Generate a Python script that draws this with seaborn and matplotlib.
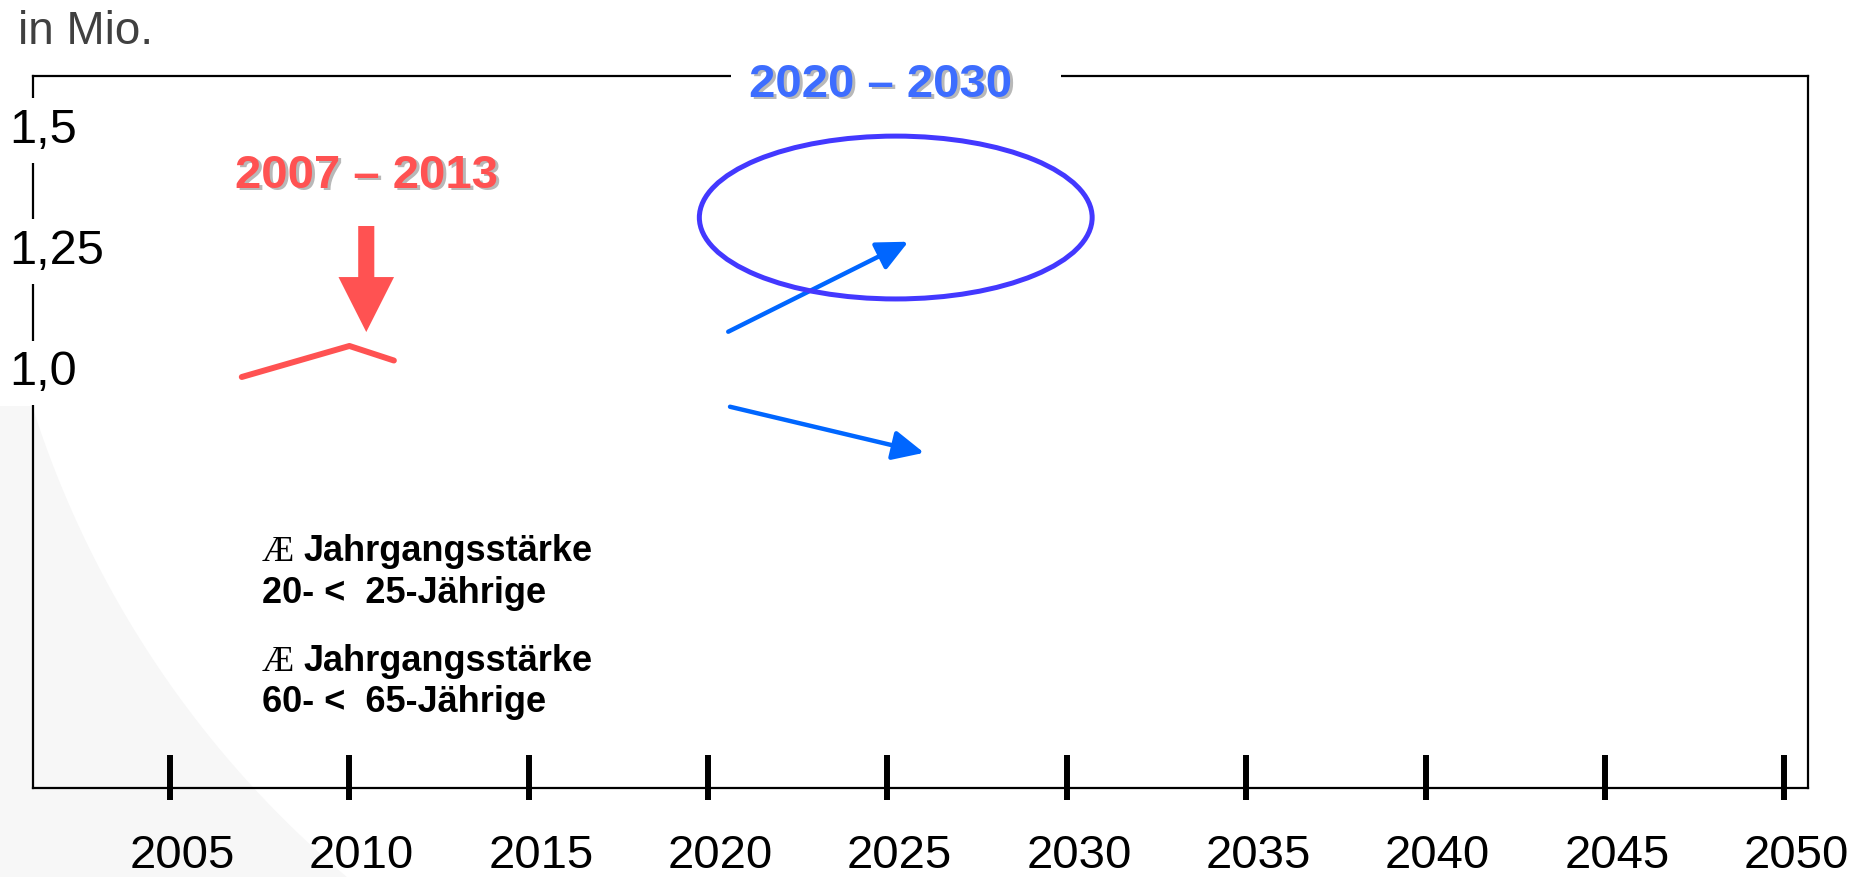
import numpy as np
import matplotlib
matplotlib.use("Agg")
import matplotlib.pyplot as plt
import seaborn as sns
from matplotlib.patches import Ellipse, Polygon
from matplotlib.transforms import ScaledTranslation

# ---------------- data ----------------
tick_years = [2005, 2010, 2015, 2020, 2025, 2030, 2035, 2040, 2045, 2050]
tick_labels = [str(y) for y in tick_years]
y_ticks = [1.0, 1.25, 1.5]
y_tick_labels = ["1,0", "1,25", "1,5"]

red_years = [2007.0, 2010.0, 2011.24]
red_values = [0.981, 1.045, 1.015]

red_period = "2007 – 2013"
red_period_pos = (2010.48, 1.396)
blue_period = "2020 – 2030"

red_arrow_x = [2010.47, 2010.47]
red_arrow_y = [1.2925, 1.0737]
blue_up_x = [2020.56, 2025.58]
blue_up_y = [1.0744, 1.2601]
blue_down_x = [2020.61, 2026.02]
blue_down_y = [0.9196, 0.8246]

ellipse_center = (2025.23, 1.310)
ellipse_size = (10.95, 0.336)

legend_symbol = "Æ"
legend_heads = ["Jahrgangsstärke", "Jahrgangsstärke"]
legend_groups = ["20- <  25-Jährige", "60- <  65-Jährige"]
unit_label = "in Mio."

x_limits = (2001.18, 2050.66)
y_limits = (0.133, 1.602)

# ---------------- style ----------------
RED = "#FF5252"
BLUE_ARROW = "#0066FF"
BLUE_ELLIPSE = "#4338FF"
BLUE_TEXT = "#3D6DFF"
SHADOW = "#B8B8B8"

sns.set_theme(style="white")
plt.rcParams["font.family"] = ["Liberation Sans", "DejaVu Sans"]

W, H, DPI = 1871, 877, 100
fig = plt.figure(figsize=(W / DPI, H / DPI), dpi=DPI)
fig.patch.set_facecolor("white")

# subtle grey background swoosh (decoration) in lower left
cx, cy, r, ytop = 1000.0, 100.0, 1015.0, 406.0
ys = np.linspace(ytop, H, 80)
xs = cx - np.sqrt(np.maximum(r ** 2 - (ys - cy) ** 2, 0))
verts = [(0, ytop)] + list(zip(xs, ys)) + [(0, H)]
verts = [(vx / W, 1 - vy / H) for vx, vy in verts]
fig.add_artist(Polygon(verts, closed=True, transform=fig.transFigure,
                       facecolor="#F7F7F7", edgecolor="none", zorder=-5))

ax = fig.add_axes([33 / W, 1 - 788 / H, (1808 - 33) / W, (788 - 76) / H])
ax.set_facecolor("none")
ax.set_xlim(*x_limits)
ax.set_ylim(*y_limits)

for s in ax.spines.values():
    s.set_visible(True)
    s.set_color("black")
    s.set_linewidth(1.6)

# red line
sns.lineplot(x=red_years, y=red_values, ax=ax, color=RED, linewidth=4.3,
             sort=False, estimator=None)

# red down arrow
ax.annotate("", xy=(red_arrow_x[1], red_arrow_y[1]),
            xytext=(red_arrow_x[0], red_arrow_y[0]),
            arrowprops=dict(arrowstyle="simple,head_length=0.99,head_width=1.0,tail_width=0.29",
                            mutation_scale=40, facecolor=RED, edgecolor="none",
                            shrinkA=0, shrinkB=0))

# blue arrows
for bx, by in [(blue_up_x, blue_up_y), (blue_down_x, blue_down_y)]:
    ax.annotate("", xy=(bx[1], by[1]), xytext=(bx[0], by[0]),
                arrowprops=dict(arrowstyle="-|>,head_length=0.95,head_width=0.45",
                                mutation_scale=20, color=BLUE_ARROW, lw=3.2,
                                shrinkA=0, shrinkB=0))

# ellipse
ax.add_patch(Ellipse(ellipse_center, ellipse_size[0], ellipse_size[1],
                     fill=False, edgecolor=BLUE_ELLIPSE, lw=3.6, zorder=3))

# red period label with shadow
ax.annotate(red_period, red_period_pos, xytext=(1.8, -1.8), textcoords="offset points",
            ha="center", va="center", fontsize=34, fontweight="bold", color=SHADOW, zorder=4)
ax.annotate(red_period, red_period_pos, ha="center", va="center",
            fontsize=34, fontweight="bold", color=RED, zorder=5)

# blue period label sitting in the top frame line
blue_str = " " + blue_period + "   "
ax.annotate(blue_str, (0.3961, 0.9874), xycoords="axes fraction",
            xytext=(1.8, -1.8), textcoords="offset points",
            ha="left", va="center", fontsize=34, fontweight="bold", color=SHADOW,
            bbox=dict(boxstyle="square,pad=0.15", facecolor="white", edgecolor="none"),
            zorder=4, annotation_clip=False)
ax.annotate(blue_str, (0.3961, 0.9874), xycoords="axes fraction",
            ha="left", va="center", fontsize=34, fontweight="bold", color=BLUE_TEXT,
            zorder=5, annotation_clip=False)

# legend-like texts
head_y = [0.3188, 0.1643]
group_y = [0.2598, 0.1067]
for hy, gy, head, grp in zip(head_y, group_y, legend_heads, legend_groups):
    ax.text(0.129, hy, legend_symbol, transform=ax.transAxes, va="baseline", ha="left",
            fontsize=26, family=["Liberation Serif", "DejaVu Serif"], color="black")
    ax.annotate(head, (0.129, hy), xycoords="axes fraction", xytext=(30, 0),
                textcoords="offset points", va="baseline", ha="left",
                fontsize=26, fontweight="bold", color="black")
    ax.text(0.129, gy, grp, transform=ax.transAxes, va="baseline", ha="left",
            fontsize=26, fontweight="bold", color="black")

# x ticks: thick marks crossing the bottom frame
ax.set_xticks(tick_years, tick_labels)
ax.set_xticks(tick_years, minor=True)
ax.xaxis.remove_overlapping_locs = False
ax.tick_params(axis="x", which="major", direction="in", length=23.8, width=4.3,
               color="black", pad=33, labelsize=34, labelcolor="black",
               bottom=True, top=False)
ax.tick_params(axis="x", which="minor", direction="out", length=8.6, width=4.3,
               color="black", bottom=True, top=False, labelbottom=False)
for lbl in ax.get_xticklabels():
    lbl.set_transform(lbl.get_transform() + ScaledTranslation(0.12, 0, fig.dpi_scale_trans))

# y ticks: labels sit on top of the left frame line
ax.set_yticks(y_ticks, y_tick_labels)
ax.tick_params(axis="y", which="both", length=0, pad=16.9, labelsize=35,
               labelcolor="black", left=False, right=False)
for tl in ax.get_yticklabels():
    tl.set_horizontalalignment("left")
    tl.set_bbox(dict(boxstyle="square,pad=0.2", facecolor="white", edgecolor="none"))
ax.yaxis.set_zorder(3)

ax.set_xlabel("")
ax.set_ylabel("")

fig.text(18 / W, 1 - 44 / H, unit_label, fontsize=33, color="#404040", va="baseline")

fig.savefig("out.png", dpi=DPI, facecolor="white")
